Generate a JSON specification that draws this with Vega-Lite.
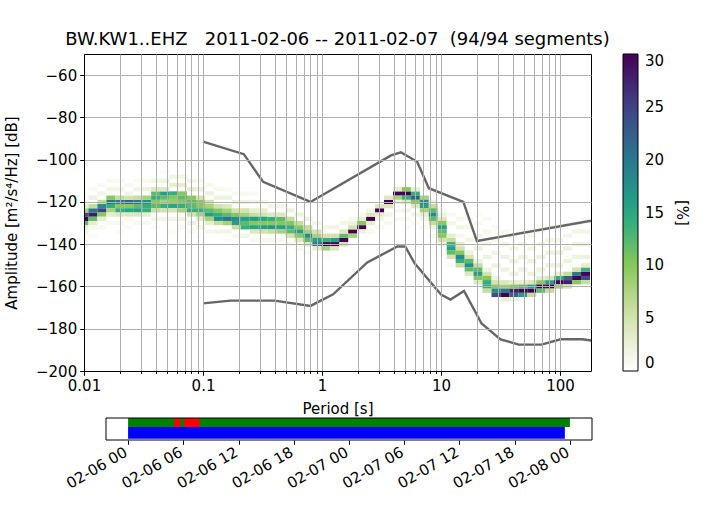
{
  "$schema": "https://vega.github.io/schema/vega-lite/v6.json",
  "background": "white",
  "padding": {"left": 4, "top": 30, "right": 5, "bottom": 5},
  "config": {
    "font": "DejaVu Sans",
    "axis": {"labelFont": "DejaVu Sans", "titleFont": "DejaVu Sans", "labelFontSize": 15, "titleFontSize": 15, "titleFontWeight": "normal", "labelColor": "black", "titleColor": "black", "tickColor": "black", "domainColor": "black"},
    "legend": {"labelFont": "DejaVu Sans", "titleFont": "DejaVu Sans"}
  },
  "spacing": 0,
  "resolve": {"scale": {"x": "independent", "y": "independent", "color": "independent"}, "legend": {"color": "independent"}},
  "vconcat": [
    {
      "width": 507,
      "height": 317,
      "view": {"stroke": "black", "strokeWidth": 1},
      "title": {"text": "BW.KW1..EHZ\u00a0\u00a0\u00a02011-02-06 -- 2011-02-07\u00a0\u00a0(94/94 segments)", "fontSize": 18, "fontWeight": "normal", "font": "DejaVu Sans", "color": "black", "offset": 5, "anchor": "middle"},
      "layer": [
        {
          "data": {"values": [
{"p":0.01,"d":-128,"v":30},{"p":0.01,"d":-126,"v":24},{"p":0.01,"d":-130,"v":12},{"p":0.01,"d":-124,"v":8},{"p":0.01,"d":-132,"v":3},{"p":0.01,"d":-122,"v":3},{"p":0.01,"d":-120,"v":1},{"p":0.01,"d":-134,"v":1.5},{"p":0.01,"d":-116,"v":0.6},
{"p":0.01189,"d":-126,"v":28},{"p":0.01189,"d":-124,"v":20},{"p":0.01189,"d":-128,"v":12},{"p":0.01189,"d":-122,"v":6},{"p":0.01189,"d":-130,"v":3},{"p":0.01189,"d":-118,"v":2},{"p":0.01189,"d":-132,"v":1},{"p":0.01189,"d":-114,"v":0.8},{"p":0.01189,"d":-136,"v":0.6},
{"p":0.01414,"d":-124,"v":25},{"p":0.01414,"d":-122,"v":18},{"p":0.01414,"d":-126,"v":10},{"p":0.01414,"d":-120,"v":6},{"p":0.01414,"d":-128,"v":3},{"p":0.01414,"d":-116,"v":1.5},{"p":0.01414,"d":-132,"v":1},{"p":0.01414,"d":-112,"v":0.8},
{"p":0.01682,"d":-120,"v":20},{"p":0.01682,"d":-122,"v":14},{"p":0.01682,"d":-118,"v":10},{"p":0.01682,"d":-124,"v":8},{"p":0.01682,"d":-126,"v":3},{"p":0.01682,"d":-114,"v":1.5},{"p":0.01682,"d":-130,"v":1},{"p":0.01682,"d":-110,"v":0.8},
{"p":0.02,"d":-120,"v":20},{"p":0.02,"d":-122,"v":10},{"p":0.02,"d":-124,"v":14},{"p":0.02,"d":-118,"v":6},{"p":0.02,"d":-126,"v":4},{"p":0.02,"d":-114,"v":1.5},{"p":0.02,"d":-130,"v":1},{"p":0.02,"d":-110,"v":0.8},{"p":0.02,"d":-134,"v":0.6},
{"p":0.02378,"d":-120,"v":22},{"p":0.02378,"d":-122,"v":10},{"p":0.02378,"d":-124,"v":15},{"p":0.02378,"d":-118,"v":5},{"p":0.02378,"d":-126,"v":4},{"p":0.02378,"d":-116,"v":1.5},{"p":0.02378,"d":-128,"v":1},{"p":0.02378,"d":-112,"v":0.8},{"p":0.02378,"d":-132,"v":0.6},
{"p":0.02828,"d":-120,"v":20},{"p":0.02828,"d":-122,"v":12},{"p":0.02828,"d":-124,"v":16},{"p":0.02828,"d":-118,"v":6},{"p":0.02828,"d":-126,"v":4},{"p":0.02828,"d":-114,"v":1.5},{"p":0.02828,"d":-130,"v":1},{"p":0.02828,"d":-110,"v":0.6},
{"p":0.03364,"d":-120,"v":18},{"p":0.03364,"d":-122,"v":14},{"p":0.03364,"d":-124,"v":14},{"p":0.03364,"d":-118,"v":8},{"p":0.03364,"d":-126,"v":3},{"p":0.03364,"d":-114,"v":2},{"p":0.03364,"d":-130,"v":1},{"p":0.03364,"d":-110,"v":0.8},
{"p":0.04,"d":-116,"v":12},{"p":0.04,"d":-118,"v":14},{"p":0.04,"d":-120,"v":10},{"p":0.04,"d":-122,"v":12},{"p":0.04,"d":-124,"v":6},{"p":0.04,"d":-114,"v":4},{"p":0.04,"d":-110,"v":1.5},{"p":0.04,"d":-128,"v":1.5},{"p":0.04,"d":-132,"v":0.6},
{"p":0.04757,"d":-116,"v":16},{"p":0.04757,"d":-118,"v":12},{"p":0.04757,"d":-120,"v":8},{"p":0.04757,"d":-122,"v":14},{"p":0.04757,"d":-124,"v":5},{"p":0.04757,"d":-114,"v":4},{"p":0.04757,"d":-110,"v":2},{"p":0.04757,"d":-128,"v":1.5},{"p":0.04757,"d":-106,"v":0.6},
{"p":0.05657,"d":-116,"v":14},{"p":0.05657,"d":-118,"v":10},{"p":0.05657,"d":-120,"v":9},{"p":0.05657,"d":-122,"v":15},{"p":0.05657,"d":-124,"v":5},{"p":0.05657,"d":-112,"v":3},{"p":0.05657,"d":-108,"v":1.5},{"p":0.05657,"d":-128,"v":1.5},{"p":0.05657,"d":-134,"v":0.6},
{"p":0.06727,"d":-116,"v":10},{"p":0.06727,"d":-118,"v":12},{"p":0.06727,"d":-120,"v":10},{"p":0.06727,"d":-122,"v":14},{"p":0.06727,"d":-124,"v":8},{"p":0.06727,"d":-112,"v":3},{"p":0.06727,"d":-108,"v":1.5},{"p":0.06727,"d":-128,"v":2},{"p":0.06727,"d":-132,"v":0.8},
{"p":0.08,"d":-118,"v":10},{"p":0.08,"d":-120,"v":12},{"p":0.08,"d":-122,"v":12},{"p":0.08,"d":-124,"v":14},{"p":0.08,"d":-126,"v":5},{"p":0.08,"d":-114,"v":3},{"p":0.08,"d":-110,"v":1.5},{"p":0.08,"d":-130,"v":2},{"p":0.08,"d":-134,"v":0.8},
{"p":0.09514,"d":-120,"v":10},{"p":0.09514,"d":-122,"v":10},{"p":0.09514,"d":-124,"v":14},{"p":0.09514,"d":-126,"v":8},{"p":0.09514,"d":-118,"v":5},{"p":0.09514,"d":-128,"v":3},{"p":0.09514,"d":-114,"v":2},{"p":0.09514,"d":-110,"v":1},{"p":0.09514,"d":-132,"v":1.5},{"p":0.09514,"d":-136,"v":0.6},
{"p":0.1131,"d":-122,"v":8},{"p":0.1131,"d":-124,"v":12},{"p":0.1131,"d":-126,"v":16},{"p":0.1131,"d":-128,"v":8},{"p":0.1131,"d":-120,"v":5},{"p":0.1131,"d":-130,"v":3},{"p":0.1131,"d":-116,"v":2},{"p":0.1131,"d":-112,"v":1},{"p":0.1131,"d":-134,"v":1.2},
{"p":0.1345,"d":-124,"v":10},{"p":0.1345,"d":-126,"v":14},{"p":0.1345,"d":-128,"v":18},{"p":0.1345,"d":-130,"v":6},{"p":0.1345,"d":-122,"v":5},{"p":0.1345,"d":-118,"v":2},{"p":0.1345,"d":-114,"v":1},{"p":0.1345,"d":-134,"v":1.5},
{"p":0.16,"d":-124,"v":8},{"p":0.16,"d":-126,"v":12},{"p":0.16,"d":-128,"v":20},{"p":0.16,"d":-130,"v":8},{"p":0.16,"d":-122,"v":4},{"p":0.16,"d":-118,"v":2},{"p":0.16,"d":-114,"v":0.8},{"p":0.16,"d":-134,"v":1.5},{"p":0.16,"d":-138,"v":0.6},
{"p":0.1903,"d":-126,"v":10},{"p":0.1903,"d":-128,"v":18},{"p":0.1903,"d":-130,"v":16},{"p":0.1903,"d":-132,"v":6},{"p":0.1903,"d":-124,"v":5},{"p":0.1903,"d":-120,"v":2},{"p":0.1903,"d":-116,"v":1},{"p":0.1903,"d":-136,"v":1.2},
{"p":0.2263,"d":-126,"v":8},{"p":0.2263,"d":-128,"v":16},{"p":0.2263,"d":-130,"v":12},{"p":0.2263,"d":-132,"v":14},{"p":0.2263,"d":-124,"v":5},{"p":0.2263,"d":-120,"v":2},{"p":0.2263,"d":-116,"v":1},{"p":0.2263,"d":-136,"v":1.5},
{"p":0.2691,"d":-126,"v":6},{"p":0.2691,"d":-128,"v":16},{"p":0.2691,"d":-130,"v":10},{"p":0.2691,"d":-132,"v":15},{"p":0.2691,"d":-134,"v":4},{"p":0.2691,"d":-124,"v":3},{"p":0.2691,"d":-120,"v":1.5},{"p":0.2691,"d":-116,"v":0.8},{"p":0.2691,"d":-138,"v":1},
{"p":0.32,"d":-126,"v":5},{"p":0.32,"d":-128,"v":15},{"p":0.32,"d":-130,"v":10},{"p":0.32,"d":-132,"v":16},{"p":0.32,"d":-134,"v":5},{"p":0.32,"d":-124,"v":3},{"p":0.32,"d":-120,"v":1.5},{"p":0.32,"d":-138,"v":1},
{"p":0.3805,"d":-128,"v":14},{"p":0.3805,"d":-130,"v":10},{"p":0.3805,"d":-132,"v":17},{"p":0.3805,"d":-134,"v":6},{"p":0.3805,"d":-126,"v":4},{"p":0.3805,"d":-122,"v":1.5},{"p":0.3805,"d":-138,"v":1.2},
{"p":0.4525,"d":-128,"v":12},{"p":0.4525,"d":-130,"v":10},{"p":0.4525,"d":-132,"v":16},{"p":0.4525,"d":-134,"v":8},{"p":0.4525,"d":-126,"v":4},{"p":0.4525,"d":-122,"v":1.5},{"p":0.4525,"d":-138,"v":1.2},{"p":0.4525,"d":-142,"v":0.6},
{"p":0.5382,"d":-130,"v":10},{"p":0.5382,"d":-132,"v":14},{"p":0.5382,"d":-134,"v":12},{"p":0.5382,"d":-136,"v":5},{"p":0.5382,"d":-128,"v":6},{"p":0.5382,"d":-124,"v":2},{"p":0.5382,"d":-140,"v":1},
{"p":0.64,"d":-132,"v":10},{"p":0.64,"d":-134,"v":16},{"p":0.64,"d":-136,"v":10},{"p":0.64,"d":-130,"v":6},{"p":0.64,"d":-138,"v":4},{"p":0.64,"d":-126,"v":2},{"p":0.64,"d":-142,"v":1},
{"p":0.7611,"d":-134,"v":8},{"p":0.7611,"d":-136,"v":18},{"p":0.7611,"d":-138,"v":12},{"p":0.7611,"d":-132,"v":6},{"p":0.7611,"d":-140,"v":4},{"p":0.7611,"d":-128,"v":2},{"p":0.7611,"d":-144,"v":0.8},
{"p":0.9051,"d":-136,"v":8},{"p":0.9051,"d":-138,"v":16},{"p":0.9051,"d":-140,"v":20},{"p":0.9051,"d":-134,"v":5},{"p":0.9051,"d":-142,"v":3},{"p":0.9051,"d":-130,"v":1.5},{"p":0.9051,"d":-146,"v":0.6},
{"p":1.076,"d":-140,"v":30},{"p":1.076,"d":-138,"v":14},{"p":1.076,"d":-136,"v":5},{"p":1.076,"d":-142,"v":8},{"p":1.076,"d":-132,"v":1.5},{"p":1.076,"d":-146,"v":0.6},
{"p":1.28,"d":-140,"v":30},{"p":1.28,"d":-138,"v":16},{"p":1.28,"d":-136,"v":5},{"p":1.28,"d":-142,"v":4},{"p":1.28,"d":-132,"v":1.5},
{"p":1.522,"d":-138,"v":30},{"p":1.522,"d":-136,"v":12},{"p":1.522,"d":-134,"v":4},{"p":1.522,"d":-140,"v":5},{"p":1.522,"d":-130,"v":1.5},
{"p":1.81,"d":-134,"v":30},{"p":1.81,"d":-136,"v":8},{"p":1.81,"d":-132,"v":5},{"p":1.81,"d":-130,"v":2},{"p":1.81,"d":-128,"v":1},
{"p":2.153,"d":-132,"v":30},{"p":2.153,"d":-130,"v":10},{"p":2.153,"d":-128,"v":3},{"p":2.153,"d":-134,"v":2},{"p":2.153,"d":-126,"v":1},
{"p":2.56,"d":-128,"v":30},{"p":2.56,"d":-126,"v":4},{"p":2.56,"d":-130,"v":3},{"p":2.56,"d":-124,"v":1.5},{"p":2.56,"d":-134,"v":0.8},
{"p":3.044,"d":-124,"v":30},{"p":3.044,"d":-122,"v":4},{"p":3.044,"d":-126,"v":3},{"p":3.044,"d":-128,"v":1.5},{"p":3.044,"d":-132,"v":0.8},
{"p":3.62,"d":-120,"v":30},{"p":3.62,"d":-118,"v":4},{"p":3.62,"d":-122,"v":4},{"p":3.62,"d":-126,"v":1.5},{"p":3.62,"d":-130,"v":1},
{"p":4.305,"d":-116,"v":30},{"p":4.305,"d":-118,"v":8},{"p":4.305,"d":-114,"v":3},{"p":4.305,"d":-120,"v":2},{"p":4.305,"d":-124,"v":1},{"p":4.305,"d":-128,"v":0.8},
{"p":5.12,"d":-116,"v":30},{"p":5.12,"d":-114,"v":10},{"p":5.12,"d":-118,"v":14},{"p":5.12,"d":-120,"v":4},{"p":5.12,"d":-124,"v":1.5},{"p":5.12,"d":-128,"v":0.8},{"p":5.12,"d":-132,"v":0.6},
{"p":6.089,"d":-116,"v":14},{"p":6.089,"d":-118,"v":22},{"p":6.089,"d":-120,"v":10},{"p":6.089,"d":-122,"v":4},{"p":6.089,"d":-114,"v":3},{"p":6.089,"d":-126,"v":1.5},{"p":6.089,"d":-130,"v":0.8},
{"p":7.241,"d":-118,"v":8},{"p":7.241,"d":-120,"v":18},{"p":7.241,"d":-122,"v":16},{"p":7.241,"d":-124,"v":8},{"p":7.241,"d":-126,"v":3},{"p":7.241,"d":-128,"v":1.5},{"p":7.241,"d":-132,"v":0.8},
{"p":8.611,"d":-122,"v":6},{"p":8.611,"d":-124,"v":12},{"p":8.611,"d":-126,"v":18},{"p":8.611,"d":-128,"v":12},{"p":8.611,"d":-130,"v":6},{"p":8.611,"d":-132,"v":2},{"p":8.611,"d":-120,"v":2},{"p":8.611,"d":-136,"v":0.8},
{"p":10.24,"d":-128,"v":4},{"p":10.24,"d":-130,"v":10},{"p":10.24,"d":-132,"v":16},{"p":10.24,"d":-134,"v":12},{"p":10.24,"d":-136,"v":10},{"p":10.24,"d":-138,"v":5},{"p":10.24,"d":-126,"v":2},{"p":10.24,"d":-140,"v":2},{"p":10.24,"d":-124,"v":0.8},{"p":10.24,"d":-144,"v":0.6},
{"p":12.18,"d":-138,"v":6},{"p":12.18,"d":-140,"v":14},{"p":12.18,"d":-142,"v":16},{"p":12.18,"d":-144,"v":12},{"p":12.18,"d":-146,"v":5},{"p":12.18,"d":-136,"v":3},{"p":12.18,"d":-130,"v":1.5},{"p":12.18,"d":-126,"v":1},{"p":12.18,"d":-150,"v":0.8},
{"p":14.48,"d":-142,"v":5},{"p":14.48,"d":-144,"v":10},{"p":14.48,"d":-146,"v":18},{"p":14.48,"d":-148,"v":14},{"p":14.48,"d":-150,"v":6},{"p":14.48,"d":-140,"v":3},{"p":14.48,"d":-132,"v":1.5},{"p":14.48,"d":-128,"v":1},{"p":14.48,"d":-136,"v":1},
{"p":17.22,"d":-146,"v":5},{"p":17.22,"d":-148,"v":12},{"p":17.22,"d":-150,"v":18},{"p":17.22,"d":-152,"v":12},{"p":17.22,"d":-154,"v":4},{"p":17.22,"d":-144,"v":2},{"p":17.22,"d":-138,"v":1.5},{"p":17.22,"d":-132,"v":1.2},{"p":17.22,"d":-128,"v":0.8},
{"p":20.48,"d":-150,"v":6},{"p":20.48,"d":-152,"v":12},{"p":20.48,"d":-154,"v":16},{"p":20.48,"d":-156,"v":10},{"p":20.48,"d":-158,"v":4},{"p":20.48,"d":-148,"v":2},{"p":20.48,"d":-142,"v":2},{"p":20.48,"d":-136,"v":1.5},{"p":20.48,"d":-130,"v":1},{"p":20.48,"d":-126,"v":0.6},
{"p":24.35,"d":-154,"v":5},{"p":24.35,"d":-156,"v":10},{"p":24.35,"d":-158,"v":14},{"p":24.35,"d":-160,"v":14},{"p":24.35,"d":-162,"v":6},{"p":24.35,"d":-152,"v":2},{"p":24.35,"d":-146,"v":2},{"p":24.35,"d":-140,"v":1.5},{"p":24.35,"d":-134,"v":1.2},{"p":24.35,"d":-128,"v":0.8},
{"p":28.96,"d":-160,"v":10},{"p":28.96,"d":-162,"v":18},{"p":28.96,"d":-164,"v":24},{"p":28.96,"d":-158,"v":5},{"p":28.96,"d":-156,"v":2},{"p":28.96,"d":-150,"v":2},{"p":28.96,"d":-144,"v":1.5},{"p":28.96,"d":-138,"v":1.2},{"p":28.96,"d":-132,"v":0.8},
{"p":34.44,"d":-160,"v":8},{"p":34.44,"d":-162,"v":20},{"p":34.44,"d":-164,"v":30},{"p":34.44,"d":-158,"v":4},{"p":34.44,"d":-166,"v":3},{"p":34.44,"d":-152,"v":2},{"p":34.44,"d":-146,"v":2},{"p":34.44,"d":-140,"v":1.5},{"p":34.44,"d":-134,"v":1},
{"p":40.96,"d":-162,"v":28},{"p":40.96,"d":-164,"v":22},{"p":40.96,"d":-160,"v":10},{"p":40.96,"d":-158,"v":3},{"p":40.96,"d":-166,"v":2},{"p":40.96,"d":-154,"v":2},{"p":40.96,"d":-148,"v":2},{"p":40.96,"d":-142,"v":1.5},{"p":40.96,"d":-136,"v":1},
{"p":48.71,"d":-162,"v":30},{"p":48.71,"d":-164,"v":16},{"p":48.71,"d":-160,"v":12},{"p":48.71,"d":-158,"v":3},{"p":48.71,"d":-152,"v":2},{"p":48.71,"d":-146,"v":2},{"p":48.71,"d":-140,"v":1.5},{"p":48.71,"d":-134,"v":1},
{"p":57.93,"d":-162,"v":30},{"p":57.93,"d":-160,"v":16},{"p":57.93,"d":-164,"v":6},{"p":57.93,"d":-158,"v":4},{"p":57.93,"d":-154,"v":2},{"p":57.93,"d":-148,"v":2},{"p":57.93,"d":-142,"v":1.5},{"p":57.93,"d":-136,"v":1},
{"p":68.89,"d":-160,"v":30},{"p":68.89,"d":-162,"v":12},{"p":68.89,"d":-158,"v":10},{"p":68.89,"d":-156,"v":3},{"p":68.89,"d":-152,"v":2},{"p":68.89,"d":-146,"v":2},{"p":68.89,"d":-140,"v":1.5},{"p":68.89,"d":-134,"v":1},
{"p":81.92,"d":-160,"v":30},{"p":81.92,"d":-158,"v":16},{"p":81.92,"d":-162,"v":6},{"p":81.92,"d":-156,"v":4},{"p":81.92,"d":-150,"v":2},{"p":81.92,"d":-144,"v":2},{"p":81.92,"d":-138,"v":1.5},{"p":81.92,"d":-132,"v":1},
{"p":97.42,"d":-158,"v":30},{"p":97.42,"d":-156,"v":14},{"p":97.42,"d":-160,"v":8},{"p":97.42,"d":-154,"v":3},{"p":97.42,"d":-150,"v":2},{"p":97.42,"d":-144,"v":2},{"p":97.42,"d":-138,"v":1.5},{"p":97.42,"d":-132,"v":0.8},
{"p":115.9,"d":-158,"v":28},{"p":115.9,"d":-156,"v":22},{"p":115.9,"d":-160,"v":5},{"p":115.9,"d":-154,"v":6},{"p":115.9,"d":-148,"v":2},{"p":115.9,"d":-142,"v":2},{"p":115.9,"d":-136,"v":1.5},{"p":115.9,"d":-130,"v":0.8},
{"p":137.8,"d":-156,"v":30},{"p":137.8,"d":-154,"v":20},{"p":137.8,"d":-158,"v":10},{"p":137.8,"d":-152,"v":5},{"p":137.8,"d":-146,"v":2},{"p":137.8,"d":-140,"v":2},{"p":137.8,"d":-134,"v":1.5},{"p":137.8,"d":-130,"v":0.8},
{"p":163.8,"d":-156,"v":24},{"p":163.8,"d":-154,"v":30},{"p":163.8,"d":-152,"v":14},{"p":163.8,"d":-158,"v":6},{"p":163.8,"d":-150,"v":3},{"p":163.8,"d":-146,"v":2},{"p":163.8,"d":-140,"v":2},{"p":163.8,"d":-134,"v":1.5},{"p":163.8,"d":-128,"v":0.8}
          ]},
          "mark": {"type": "rect", "width": 9, "height": 4.3, "clip": true},
          "encoding": {
            "x": {"field": "p", "type": "quantitative",
              "scale": {"type": "log", "domain": [0.01, 182], "nice": false},
              "axis": {
                "title": "Period [s]",
                "values": [0.01,0.02,0.03,0.04,0.05,0.06,0.07,0.08,0.09,0.1,0.2,0.3,0.4,0.5,0.6,0.7,0.8,0.9,1,2,3,4,5,6,7,8,9,10,20,30,40,50,60,70,80,90,100],
                "labelExpr": "abs(log(datum.value)/LN10 - round(log(datum.value)/LN10)) < 0.001 ? format(datum.value, '~g') : ''",
                "tickSize": {"condition": {"test": "abs(log(datum.value)/LN10 - round(log(datum.value)/LN10)) < 0.001", "value": 4.3}, "value": 2.4},
                "grid": true, "gridColor": "#b0b0b0", "gridWidth": 1, "zindex": 1,
                "labelPadding": 3, "titlePadding": 8, "labelOverlap": false, "labelFlush": false, "labelBound": false
              }
            },
            "y": {"field": "d", "type": "quantitative",
              "scale": {"domain": [-200, -50], "nice": false, "zero": false},
              "axis": {
                "title": "Amplitude [m²/s⁴/Hz] [dB]",
                "values": [-200,-180,-160,-140,-120,-100,-80,-60],
                "labelExpr": "replace(datum.label, '-', '\u2212')",
                "grid": true, "gridColor": "#b0b0b0", "gridWidth": 1, "zindex": 1,
                "tickSize": 4.3, "labelPadding": 3, "titlePadding": 16, "labelOverlap": false, "labelFlush": false
              }
            },
            "color": {"field": "v", "type": "quantitative",
              "scale": {"domain": [0, 5, 10, 15, 20, 25, 30], "range": ["#ffffff", "#d5e2ae", "#86c85a", "#22a884", "#2a788e", "#414487", "#440154"], "clamp": true, "interpolate": "rgb"},
              "legend": {
                "title": "[%]", "orient": "right", "offset": 32, "direction": "vertical",
                "gradientLength": 317, "gradientThickness": 15, "gradientStrokeColor": "black", "gradientStrokeWidth": 1,
                "values": [0, 5, 10, 15, 20, 25, 30],
                "labelFontSize": 15, "labelColor": "black", "labelOffset": 7, "labelOverlap": false,
                "titleOrient": "right", "titleFontSize": 15, "titleFontWeight": "normal", "titleColor": "black", "titlePadding": 10, "titleAnchor": "middle",
                "encode": {"title": {"angle": {"value": -90}}, "labels": {"dy": {"value": {"expr": "datum.perc > 0.999 ? -7 : datum.perc < 0.001 ? 7 : 0"}}}}
              }
            }
          }
        },
        {
          "data": {"values": [
            {"m": "NHNM", "p": 0.1, "d": -91.5}, {"m": "NHNM", "p": 0.22, "d": -97.4}, {"m": "NHNM", "p": 0.32, "d": -110.5}, {"m": "NHNM", "p": 0.8, "d": -120.0}, {"m": "NHNM", "p": 3.8, "d": -98.0}, {"m": "NHNM", "p": 4.6, "d": -96.5}, {"m": "NHNM", "p": 6.3, "d": -101.0}, {"m": "NHNM", "p": 7.9, "d": -113.5}, {"m": "NHNM", "p": 15.4, "d": -120.0}, {"m": "NHNM", "p": 20, "d": -138.5}, {"m": "NHNM", "p": 354.8, "d": -126.0},
            {"m": "NLNM", "p": 0.1, "d": -168.0}, {"m": "NLNM", "p": 0.17, "d": -166.7}, {"m": "NLNM", "p": 0.4, "d": -166.7}, {"m": "NLNM", "p": 0.8, "d": -169.2}, {"m": "NLNM", "p": 1.24, "d": -163.7}, {"m": "NLNM", "p": 2.4, "d": -148.6}, {"m": "NLNM", "p": 4.3, "d": -141.1}, {"m": "NLNM", "p": 5.0, "d": -141.1}, {"m": "NLNM", "p": 6.0, "d": -149.0}, {"m": "NLNM", "p": 10, "d": -163.8}, {"m": "NLNM", "p": 12, "d": -166.2}, {"m": "NLNM", "p": 15.6, "d": -162.1}, {"m": "NLNM", "p": 21.9, "d": -177.5}, {"m": "NLNM", "p": 31.6, "d": -185.0}, {"m": "NLNM", "p": 45, "d": -187.5}, {"m": "NLNM", "p": 70, "d": -187.5}, {"m": "NLNM", "p": 101, "d": -185.0}, {"m": "NLNM", "p": 154, "d": -185.0}, {"m": "NLNM", "p": 328, "d": -187.5}
          ]},
          "mark": {"type": "line", "color": "#666666", "strokeWidth": 2.4, "clip": true},
          "encoding": {
            "x": {"field": "p", "type": "quantitative"},
            "y": {"field": "d", "type": "quantitative"},
            "detail": {"field": "m", "type": "nominal"}
          }
        }
      ]
    },
    {
      "width": 508,
      "height": 22,
      "view": {"stroke": null},
      "layer": [
        {
          "data": {"values": [{"start": "2011-02-06T00:00:00Z", "end": "2011-02-07T23:27:00Z"}]},
          "mark": {"type": "rect", "color": "#0000ff"},
          "encoding": {
            "x": {"field": "start", "type": "temporal",
              "scale": {"type": "utc", "domain": [{"year": 2011, "month": 2, "date": 5, "hours": 21, "minutes": 36, "utc": true}, {"year": 2011, "month": 2, "date": 8, "hours": 2, "minutes": 24, "utc": true}], "range": [22, 508], "nice": false},
              "axis": {
                "title": null, "format": "%m-%d %H", "domain": false, "grid": false,
                "values": [
                  {"year": 2011, "month": 2, "date": 6, "hours": 0, "utc": true},
                  {"year": 2011, "month": 2, "date": 6, "hours": 6, "utc": true},
                  {"year": 2011, "month": 2, "date": 6, "hours": 12, "utc": true},
                  {"year": 2011, "month": 2, "date": 6, "hours": 18, "utc": true},
                  {"year": 2011, "month": 2, "date": 7, "hours": 0, "utc": true},
                  {"year": 2011, "month": 2, "date": 7, "hours": 6, "utc": true},
                  {"year": 2011, "month": 2, "date": 7, "hours": 12, "utc": true},
                  {"year": 2011, "month": 2, "date": 7, "hours": 18, "utc": true},
                  {"year": 2011, "month": 2, "date": 8, "hours": 0, "utc": true}
                ],
                "labelAngle": -30, "labelAlign": "right", "labelBaseline": "top", "tickSize": 4.3, "labelPadding": 0, "labelOffset": -6,
                "labelOverlap": false, "labelFlush": false, "labelBound": false
              }
            },
            "x2": {"field": "end"},
            "y": {"datum": 0.06, "type": "quantitative", "scale": {"domain": [0, 1], "nice": false}, "axis": null},
            "y2": {"datum": 0.59}
          }
        },
        {
          "data": {"values": [
            {"start": "2011-02-06T00:00:00Z", "end": "2011-02-08T00:00:00Z", "status": "used"},
            {"start": "2011-02-06T05:00:00Z", "end": "2011-02-06T05:40:00Z", "status": "flagged"},
            {"start": "2011-02-06T06:05:00Z", "end": "2011-02-06T07:45:00Z", "status": "flagged"}
          ]},
          "mark": {"type": "rect"},
          "encoding": {
            "x": {"field": "start", "type": "temporal"},
            "x2": {"field": "end"},
            "y": {"datum": 0.59, "type": "quantitative"},
            "y2": {"datum": 1},
            "color": {"field": "status", "type": "nominal", "scale": {"domain": ["used", "flagged"], "range": ["#008000", "#ff0000"]}, "legend": null}
          }
        },
        {
          "data": {"values": [{}]},
          "mark": {"type": "rect", "fill": "transparent", "stroke": "black", "strokeWidth": 1},
          "encoding": {
            "x": {"datum": {"year": 2011, "month": 2, "date": 5, "hours": 21, "minutes": 36, "utc": true}, "type": "temporal"},
            "x2": {"datum": {"year": 2011, "month": 2, "date": 8, "hours": 2, "minutes": 24, "utc": true}},
            "y": {"datum": 0, "type": "quantitative"},
            "y2": {"datum": 1}
          }
        }
      ]
    }
  ]
}
